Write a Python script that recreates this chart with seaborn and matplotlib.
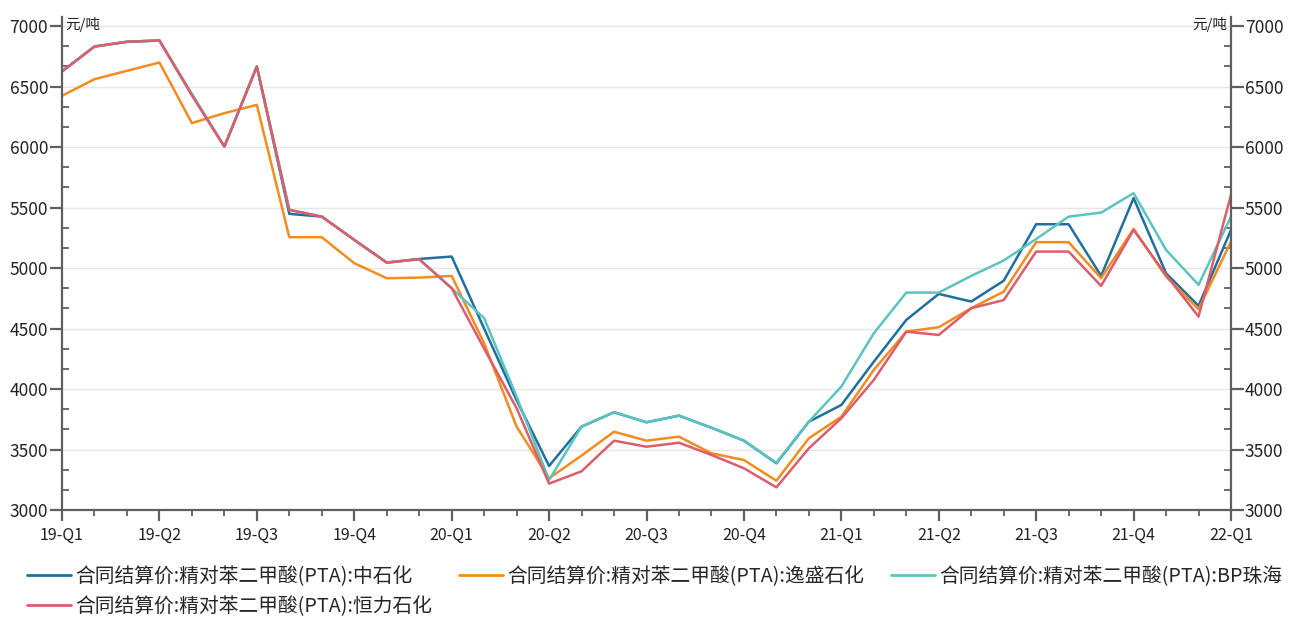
import matplotlib
matplotlib.use("Agg")
import matplotlib.pyplot as plt
from matplotlib.ticker import MultipleLocator, FixedLocator
from matplotlib.lines import Line2D
import seaborn as sns
import pandas as pd

# ---- data (monthly, 2019-01 .. 2022-01) ----
quarter_labels = ["19-Q1", "19-Q2", "19-Q3", "19-Q4", "20-Q1", "20-Q2", "20-Q3",
                  "20-Q4", "21-Q1", "21-Q2", "21-Q3", "21-Q4", "22-Q1"]
months = list(range(37))

sinopec = [6625, 6831, 6870, 6881, 6430, 6004, 6666, 5448, 5425, 5233, 5045, 5075,
           5095, 4500, 3907, 3364, 3689, 3808, 3725, 3780, 3680, 3573, 3386, 3730,
           3868, 4226, 4571, 4786, 4723, 4895, 5362, 5362, 4935, 5578, 4957, 4687, 5315]
yisheng = [6424, 6561, 6630, 6699, 6198, 6280, 6349, 5255, 5255, 5040, 4916, 4921,
           4935, 4378, 3689, 3262, 3450, 3647, 3573, 3606, 3469, 3413, 3242, 3593,
           3771, 4158, 4474, 4511, 4668, 4805, 5214, 5214, 4916, 5324, 4929, 4660, 5219]
bp_zhuhai = [6625, 6831, 6870, 6881, 6440, 6004, 6666, 5481, 5425, 5233, 5045, 5073,
             4833, 4585, 3937, 3248, 3689, 3808, 3725, 3780, 3680, 3573, 3390, 3730,
             4020, 4461, 4797, 4797, 4935, 5062, 5240, 5425, 5458, 5619, 5150, 4861, 5425]
hengli = [6625, 6831, 6870, 6881, 6430, 6004, 6666, 5481, 5425, 5233, 5045, 5073,
          4833, 4334, 3841, 3218, 3320, 3573, 3523, 3556, 3455, 3345, 3187, 3510,
          3758, 4075, 4474, 4447, 4668, 4735, 5136, 5136, 4852, 5315, 4943, 4599, 5605]

series_names = ["合同结算价:精对苯二甲酸(PTA):中石化",
                "合同结算价:精对苯二甲酸(PTA):逸盛石化",
                "合同结算价:精对苯二甲酸(PTA):BP珠海",
                "合同结算价:精对苯二甲酸(PTA):恒力石化"]
series_values = [sinopec, yisheng, bp_zhuhai, hengli]
colors = ["#1f6f9f", "#f28c1f", "#5cc4be", "#dc5d6c"]

df = pd.concat([pd.DataFrame({"month": months, "value": v, "series": n})
                for n, v in zip(series_names, series_values)], ignore_index=True)

# ---- style ----
sns.set_style("white")
plt.rcParams["font.family"] = ["Noto Sans CJK SC", "DejaVu Sans"]
plt.rcParams["axes.unicode_minus"] = False

W, H = 1299, 618
fig = plt.figure(figsize=(W / 100, H / 100), dpi=100)
ax = fig.add_axes([62 / W, 1 - 510 / H, (1231 - 62) / W, (510 - 17) / H])

sns.lineplot(data=df, x="month", y="value", hue="series", hue_order=series_names,
             palette=dict(zip(series_names, colors)), linewidth=1.8, ax=ax,
             legend=False)

ax.set_xlim(0, 36)
ax.set_ylim(3000, 7075)
ax.set_xlabel("")
ax.set_ylabel("")

ax.xaxis.set_major_locator(FixedLocator(list(range(0, 37, 3))))
ax.set_xticklabels(quarter_labels)
ax.xaxis.set_minor_locator(MultipleLocator(1))
ax.yaxis.set_major_locator(FixedLocator(list(range(3000, 7001, 500))))
ax.yaxis.set_minor_locator(MultipleLocator(500 / 3))

spine_color = "#5f5f5f"
for s in ["left", "right", "bottom"]:
    ax.spines[s].set_color(spine_color)
    ax.spines[s].set_linewidth(1.6)
ax.spines["top"].set_visible(False)

ax.grid(axis="y", which="major", color="#e6e6e6", linewidth=1.0)
ax.grid(axis="x", visible=False)
ax.set_axisbelow(True)

ax.tick_params(axis="x", which="major", direction="out", length=8, width=1.6,
               color=spine_color, labelsize=11.5, pad=4, bottom=True)
ax.tick_params(axis="x", which="minor", direction="out", length=4, width=1.3,
               color=spine_color, bottom=True)
ax.tick_params(axis="y", which="major", direction="out", length=9, width=1.6,
               color=spine_color, labelsize=12.5, pad=1, left=True, right=True,
               labelleft=True, labelright=True)
ax.tick_params(axis="y", which="minor", direction="in", length=5, width=1.3,
               color=spine_color, left=True, right=True)
for lab in ax.get_xticklabels():
    lab.set_color("#222222")
    lab.set_fontweight("medium")
for lab in ax.get_yticklabels():
    lab.set_color("#222222")

# unit labels
ax.text(0.003, 1.0, "元/吨", transform=ax.transAxes, ha="left", va="top",
        fontsize=10.5, color="#222222")
ax.text(0.997, 1.0, "元/吨", transform=ax.transAxes, ha="right", va="top",
        fontsize=10.5, color="#222222")

# legend (order arranged so rows read: 中石化, 逸盛, BP珠海 / 恒力)
order = [0, 3, 1, 2]
handles = [Line2D([0], [0], color=colors[i], linewidth=2) for i in order]
labels = [series_names[i] for i in order]
fig.legend(handles, labels, loc="upper left", bbox_to_anchor=(27 / W, 1 - 566 / H),
           ncol=3, frameon=False, fontsize=14.2, handlelength=2.25, handletextpad=0.2,
           columnspacing=1.35, labelspacing=0.45, borderpad=0, borderaxespad=0)

fig.savefig("out.png", dpi=100)
